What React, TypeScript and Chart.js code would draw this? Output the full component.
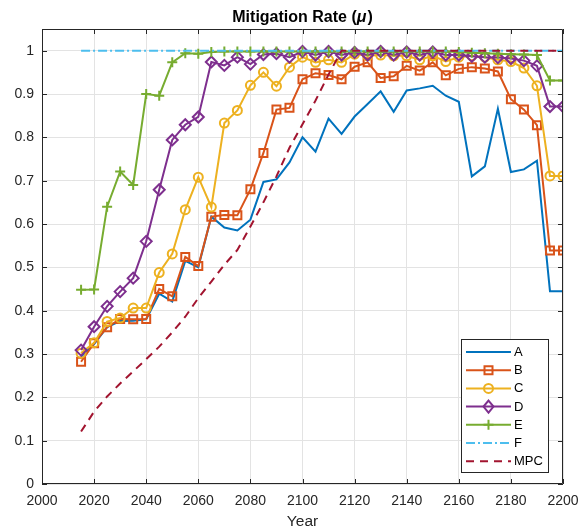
import React, { useEffect, useRef } from 'react';
import { Chart, registerables } from 'chart.js';
Chart.register(...registerables);

const years = [2015, 2020, 2025, 2030, 2035, 2040, 2045, 2050, 2055, 2060, 2065, 2070, 2075, 2080, 2085, 2090, 2095, 2100, 2105, 2110, 2115, 2120, 2125, 2130, 2135, 2140, 2145, 2150, 2155, 2160, 2165, 2170, 2175, 2180, 2185, 2190, 2195, 2200];

const seriesA = [0.294, 0.323, 0.362, 0.376, 0.377, 0.380, 0.439, 0.421, 0.515, 0.500, 0.617, 0.592, 0.585, 0.610, 0.697, 0.703, 0.742, 0.800, 0.767, 0.843, 0.808, 0.848, 0.877, 0.906, 0.859, 0.908, 0.913, 0.919, 0.896, 0.882, 0.710, 0.733, 0.866, 0.720, 0.726, 0.746, 0.445, 0.445];
const seriesB = [0.282, 0.325, 0.362, 0.381, 0.380, 0.381, 0.450, 0.433, 0.524, 0.503, 0.617, 0.621, 0.620, 0.680, 0.764, 0.864, 0.868, 0.934, 0.948, 0.944, 0.934, 0.963, 0.973, 0.937, 0.941, 0.965, 0.954, 0.973, 0.943, 0.958, 0.962, 0.959, 0.952, 0.888, 0.864, 0.828, 0.539, 0.539];
const seriesC = [0.302, 0.326, 0.375, 0.383, 0.406, 0.406, 0.488, 0.531, 0.633, 0.708, 0.639, 0.833, 0.862, 0.920, 0.950, 0.918, 0.962, 0.985, 0.973, 0.979, 0.973, 0.992, 0.988, 0.990, 0.988, 0.988, 0.979, 0.988, 0.975, 0.985, 0.988, 0.985, 0.979, 0.975, 0.960, 0.919, 0.711, 0.711];
const seriesD = [0.309, 0.363, 0.410, 0.444, 0.475, 0.560, 0.679, 0.794, 0.829, 0.847, 0.974, 0.966, 0.985, 0.969, 0.991, 0.993, 0.985, 0.998, 0.990, 0.998, 0.990, 0.996, 0.990, 0.998, 0.990, 0.997, 0.990, 0.997, 0.990, 0.990, 0.987, 0.985, 0.984, 0.982, 0.977, 0.965, 0.871, 0.871];
const seriesE = [0.448, 0.449, 0.640, 0.721, 0.690, 0.900, 0.896, 0.973, 0.994, 0.993, 0.997, 0.998, 0.998, 0.998, 0.998, 0.998, 0.998, 0.998, 0.998, 0.998, 0.998, 0.998, 0.998, 0.998, 0.998, 0.998, 0.998, 0.998, 0.998, 0.997, 0.995, 0.994, 0.993, 0.992, 0.991, 0.990, 0.931, 0.931];
const seriesF = [1, 1, 1, 1, 1, 1, 1, 1, 1, 1, 1, 1, 1, 1, 1, 1, 1, 1, 1, 1, 1, 1, 1, 1, 1, 1, 1, 1, 1, 1, 1, 1, 1, 1, 1, 1, 1, 1];
const seriesMPC = [0.121, 0.167, 0.202, 0.232, 0.260, 0.288, 0.317, 0.350, 0.386, 0.429, 0.467, 0.506, 0.540, 0.594, 0.650, 0.710, 0.776, 0.830, 0.885, 0.945, 1, 1, 1, 1, 1, 1, 1, 1, 1, 1, 1, 1, 1, 1, 1, 1, 1, 1];

const xTicks = [2000, 2020, 2040, 2060, 2080, 2100, 2120, 2140, 2160, 2180, 2200];
const yTicks = [0, 0.1, 0.2, 0.3, 0.4, 0.5, 0.6, 0.7, 0.8, 0.9, 1];

const FONT = "'Liberation Sans', Arial, Helvetica, sans-serif";
const AXIS = '#262626';

type Marker = 'none' | 'square' | 'circle' | 'diamond' | 'plus';

function drawMarker(ctx: CanvasRenderingContext2D, m: Marker, x: number, y: number) {
  ctx.beginPath();
  if (m === 'square') {
    ctx.rect(x - 4, y - 4, 8, 8);
  } else if (m === 'circle') {
    ctx.arc(x, y, 4.5, 0, Math.PI * 2);
  } else if (m === 'diamond') {
    ctx.moveTo(x, y - 6);
    ctx.lineTo(x + 5, y);
    ctx.lineTo(x, y + 6);
    ctx.lineTo(x - 5, y);
    ctx.closePath();
  } else if (m === 'plus') {
    ctx.moveTo(x - 5, y);
    ctx.lineTo(x + 5, y);
    ctx.moveTo(x, y - 5);
    ctx.lineTo(x, y + 5);
  } else {
    return;
  }
  ctx.stroke();
}

const matlabPlugin = {
  id: 'matlabDeco',
  afterDraw(chart: any) {
    const { ctx, chartArea } = chart;
    const { left, right, top, bottom } = chartArea;
    const xs = chart.scales.x;
    const ys = chart.scales.y;
    ctx.save();
    ctx.setLineDash([]);
    ctx.strokeStyle = AXIS;
    ctx.lineWidth = 1;
    // box
    ctx.beginPath();
    ctx.rect(Math.round(left) + 0.5, Math.round(top) + 0.5, Math.round(right - left) - 1, Math.round(bottom - top) - 1);
    ctx.stroke();
    // inward ticks
    ctx.beginPath();
    xs.ticks.forEach((t: any) => {
      const x = Math.round(xs.getPixelForValue(t.value)) + 0.5;
      ctx.moveTo(x, bottom);
      ctx.lineTo(x, bottom - 5);
      ctx.moveTo(x, top);
      ctx.lineTo(x, top + 5);
    });
    ys.ticks.forEach((t: any) => {
      const y = Math.round(ys.getPixelForValue(t.value)) + 0.5;
      ctx.moveTo(left, y);
      ctx.lineTo(left + 5, y);
      ctx.moveTo(right, y);
      ctx.lineTo(right - 5, y);
    });
    ctx.stroke();

    // title with italic mu
    const cx = (left + right) / 2;
    const partA = 'Mitigation Rate (';
    const partB = 'μ';
    const partC = ')';
    ctx.fillStyle = '#000';
    ctx.textBaseline = 'alphabetic';
    ctx.textAlign = 'left';
    const fB = `bold 16px ${FONT}`;
    const fI = `italic bold 16px ${FONT}`;
    ctx.font = fB;
    const wA = ctx.measureText(partA).width;
    const wC = ctx.measureText(partC).width;
    ctx.font = fI;
    const wB = ctx.measureText(partB).width + 1;
    const x0 = cx - (wA + wB + wC) / 2;
    const by = 22;
    ctx.font = fB;
    ctx.fillText(partA, x0, by);
    ctx.font = fI;
    ctx.fillText(partB, x0 + wA, by);
    ctx.font = fB;
    ctx.fillText(partC, x0 + wA + wB, by);

    // legend
    const lx = 461, ly = 339, lw = 87, lh = 133;
    ctx.fillStyle = '#fff';
    ctx.fillRect(lx, ly, lw, lh);
    ctx.strokeStyle = AXIS;
    ctx.lineWidth = 1;
    ctx.strokeRect(lx + 0.5, ly + 0.5, lw, lh);
    const ds = chart.data.datasets;
    ctx.font = `13px ${FONT}`;
    ctx.textBaseline = 'middle';
    ds.forEach((d: any, i: number) => {
      const y = 352 + i * 18.2;
      ctx.strokeStyle = d.borderColor;
      ctx.lineWidth = d.borderWidth;
      ctx.setLineDash(d.borderDash || []);
      ctx.beginPath();
      ctx.moveTo(466, y);
      ctx.lineTo(511, y);
      ctx.stroke();
      ctx.setLineDash([]);
      drawMarker(ctx, d.marker as Marker, 488.5, y);
      ctx.fillStyle = '#000';
      ctx.fillText(d.label, 514, y + 0.5);
    });
    ctx.restore();
  },
};

export default function App() {
  const ref = useRef<HTMLCanvasElement>(null);
  useEffect(() => {
    const mk = (label: string, data: number[], color: string, marker: Marker, order: number, extra: any = {}) => {
      let pointStyle: any = false;
      let pointRadius = 0;
      if (marker === 'square') { pointStyle = 'rect'; pointRadius = 5.66; }
      if (marker === 'circle') { pointStyle = 'circle'; pointRadius = 4.5; }
      if (marker === 'diamond') { pointStyle = 'rectRot'; pointRadius = 5.5; }
      if (marker === 'plus') { pointStyle = 'cross'; pointRadius = 5; }
      return {
        label,
        marker,
        order,
        data: years.map((x, i) => ({ x, y: data[i] })),
        borderColor: color,
        backgroundColor: color,
        borderWidth: 2,
        pointStyle: pointStyle || 'circle',
        pointRadius,
        pointBorderColor: color,
        pointBackgroundColor: 'rgba(0,0,0,0)',
        pointBorderWidth: 2,
        pointHoverRadius: pointRadius,
        tension: 0,
        fill: false,
        ...extra,
      };
    };
    const datasets = [
      mk('A', seriesA, '#0072BD', 'none', 6),
      mk('B', seriesB, '#D95319', 'square', 5),
      mk('C', seriesC, '#EDB120', 'circle', 4),
      mk('D', seriesD, '#7E2F8E', 'diamond', 3),
      mk('E', seriesE, '#77AC30', 'plus', 2),
      mk('F', seriesF, '#4DBEEE', 'none', 1, { borderDash: [9, 3, 2, 3] }),
      mk('MPC', seriesMPC, '#A2142F', 'none', 0, { borderDash: [8, 6] }),
    ];
    const chart = new Chart(ref.current as HTMLCanvasElement, {
      type: 'line',
      data: { datasets } as any,
      plugins: [matlabPlugin],
      options: {
        responsive: false,
        animation: false,
        events: [],
        layout: { padding: { left: 0, right: 23, top: 29, bottom: 0 } },
        plugins: {
          legend: { display: false },
          title: { display: false },
          tooltip: { enabled: false },
        },
        scales: {
          x: {
            type: 'linear',
            min: 2000,
            max: 2200,
            afterBuildTicks: (s: any) => { s.ticks = xTicks.map((v) => ({ value: v })); },
            afterFit: (s: any) => { s.height = 47; s.paddingLeft = 0; s.paddingRight = 0; },
            grid: { color: '#e3e3e3', lineWidth: 1, drawTicks: false },
            border: { display: false },
            ticks: {
              padding: 9,
              color: AXIS,
              font: { family: FONT, size: 14 },
              maxRotation: 0,
              callback: (v: any) => String(v),
            },
            title: {
              display: true,
              text: 'Year',
              color: AXIS,
              font: { family: FONT, size: 15.5 },
              padding: { top: 0, bottom: 0 },
            },
          },
          y: {
            type: 'linear',
            min: 0,
            max: 1.05,
            afterBuildTicks: (s: any) => { s.ticks = yTicks.map((v) => ({ value: v })); },
            afterFit: (s: any) => { s.width = 42; s.paddingTop = 0; s.paddingBottom = 0; },
            grid: { color: '#e3e3e3', lineWidth: 1, drawTicks: false },
            border: { display: false },
            ticks: {
              padding: 8,
              color: AXIS,
              font: { family: FONT, size: 14 },
              callback: (v: any) => String(Math.round(v * 10) / 10),
            },
          },
        },
      } as any,
    });
    return () => chart.destroy();
  }, []);
  return (
    <div style={{ position: 'absolute', left: 0, top: 0, width: 586, height: 531, background: '#fff' }}>
      <canvas ref={ref} width={586} height={531} style={{ display: 'block', width: 586, height: 531 }} />
    </div>
  );
}
